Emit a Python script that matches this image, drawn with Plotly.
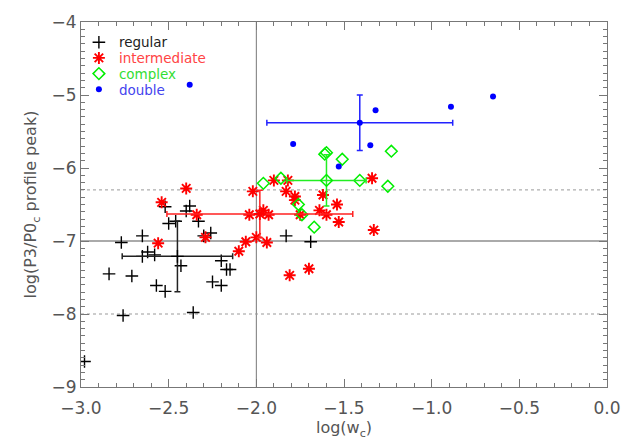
import plotly.graph_objects as go

# ---- data ----
reg_x = [-2.98, -2.84, -2.77, -2.76, -2.71, -2.65, -2.65, -2.62, -2.58, -2.57, -2.52, -2.52, -2.50, -2.46,
         -2.43, -2.40, -2.38, -2.36, -2.33, -2.30, -2.26, -2.25, -2.20, -2.20, -2.17, -2.15, -1.83, -1.69]
reg_y = [-8.65, -7.45, -7.02, -8.02, -7.48, -6.93, -7.21, -7.15, -7.19, -7.61, -7.69, -6.53, -6.76, -6.73,
         -7.34, -6.59, -6.52, -7.98, -6.73, -6.93, -6.89, -7.56, -7.61, -7.27, -7.39, -7.39, -6.93, -7.01]

int_x = [-2.54, -2.40, -2.56, -2.34, -2.29, -2.10, -2.06, -2.02, -2.04, -2.00, -1.96, -1.93, -1.94, -1.90,
         -1.82, -1.83, -1.78, -1.78, -1.75, -1.81, -1.70, -1.62, -1.54, -1.64, -1.60, -1.53, -1.34, -1.33]
int_y = [-6.47, -6.28, -7.03, -6.64, -6.95, -7.14, -7.01, -6.32, -6.64, -6.95, -6.58, -6.64, -7.02, -6.17,
         -6.17, -6.32, -6.39, -6.44, -6.64, -7.47, -7.38, -6.37, -6.50, -6.58, -6.64, -6.74, -6.14, -6.85]

cpx_x = [-1.96, -1.86, -1.76, -1.74, -1.67, -1.61, -1.60, -1.51, -1.41, -1.23, -1.25]
cpx_y = [-6.21, -6.14, -6.50, -6.64, -6.81, -5.81, -5.79, -5.88, -6.17, -5.77, -6.25]

dbl_x = [-2.38, -1.79, -1.32, -1.35, -1.53, -0.89, -0.65]
dbl_y = [-4.86, -5.67, -5.21, -5.69, -5.98, -5.16, -5.02]

classes = ["regular", "intermediate", "complex", "double"]
mean_x = [-2.45, -1.98, -1.60, -1.41]
mean_y = [-7.21, -6.63, -6.17, -5.38]
sd_x = [0.315, 0.53, 0.226, 0.53]
sd_y = [0.485, 0.325, 0.35, 0.38]

x_ticks = [-3.0, -2.5, -2.0, -1.5, -1.0, -0.5, 0.0]
y_ticks = [-9, -8, -7, -6, -5, -4]
ref_x = -2.0
ref_y_solid = -7.0
ref_y_dotted = [-6.3, -8.0]

# ---- styles ----
colors = ["#000000", "#ff0000", "#00ee00", "#0000ff"]
text_colors = ["#222222", "#ff4444", "#33dd33", "#4444ee"]
bar_colors = ["#222222", "#ff2222", "#22ee22", "#2222ff"]
symbols = ["cross-thin-open", "asterisk-open", "diamond-open", "circle"]
sizes = [9, 10, 9, 6]
lw = [1.4, 1.9, 1.5, 0]
xs = [reg_x, int_x, cpx_x, dbl_x]
ys = [reg_y, int_y, cpx_y, dbl_y]
legend_ids = ["legend", "legend2", "legend3", "legend4"]
legend_rows = [0.944, 0.901, 0.858, 0.815]

fig = go.Figure()
FONT = "DejaVu Sans"
GRAY = "#555555"

for i in range(4):
    fig.add_trace(go.Scatter(
        x=xs[i], y=ys[i], mode="markers",
        name=f"<span style='color:{text_colors[i]}'>{classes[i]}</span>",
        legend=legend_ids[i],
        marker=dict(symbol=symbols[i], size=sizes[i], color=colors[i],
                    line=dict(color=colors[i], width=lw[i])),
    ))

for i in range(4):
    fig.add_trace(go.Scatter(
        x=[mean_x[i]], y=[mean_y[i]], mode="markers", showlegend=False,
        marker=dict(symbol=symbols[i], size=sizes[i], color=colors[i],
                    line=dict(color=colors[i], width=lw[i])),
        error_x=dict(type="data", array=[sd_x[i]], color=bar_colors[i], thickness=1.5, width=3),
        error_y=dict(type="data", array=[sd_y[i]], color=bar_colors[i], thickness=1.5, width=3),
    ))

shapes = [
    dict(type="line", xref="x", yref="paper", x0=ref_x, x1=ref_x, y0=0, y1=1,
         line=dict(color="#777777", width=1), layer="below"),
    dict(type="line", xref="paper", yref="y", x0=0, x1=1, y0=ref_y_solid, y1=ref_y_solid,
         line=dict(color="#aaaaaa", width=2), layer="below"),
]
for yv in ref_y_dotted:
    shapes.append(dict(type="line", xref="paper", yref="y", x0=0, x1=1, y0=yv, y1=yv,
                       line=dict(color="#999999", width=1, dash="dot"), layer="below"))

axis_common = dict(
    showgrid=False, zeroline=False, showline=True, linecolor="#777777", linewidth=1,
    mirror="allticks", ticks="inside", ticklen=8, tickcolor="#777777", tickwidth=1,
    tickfont=dict(family=FONT, size=17, color=GRAY),
)

layout_legends = {}
for lid, ly in zip(legend_ids, legend_rows):
    layout_legends[lid] = dict(x=-0.004, y=ly, xanchor="left", yanchor="middle",
                               bgcolor="rgba(0,0,0,0)", borderwidth=0,
                               font=dict(family=FONT, size=13.5, color=GRAY))

fig.update_layout(
    width=635, height=444,
    margin=dict(l=81, r=28, t=14, b=57),
    paper_bgcolor="white", plot_bgcolor="white",
    shapes=shapes,
    showlegend=True,
    xaxis=dict(range=[-3.0, 0.0], tickvals=x_ticks, tickformat=".1f", ticklabelstandoff=6,
               title=dict(text="log(w<sub>c</sub>)", font=dict(family=FONT, size=16, color=GRAY), standoff=2),
               minor=dict(dtick=0.1, ticks="inside", ticklen=4, tickcolor="#777777"),
               **axis_common),
    yaxis=dict(range=[-9.0, -4.0], tickvals=y_ticks,
               title=dict(text="log(P3/P0<sub>c</sub> profile peak)", font=dict(family=FONT, size=16, color=GRAY), standoff=10),
               minor=dict(dtick=0.1, ticks="inside", ticklen=4, tickcolor="#777777"),
               **axis_common),
    **layout_legends,
)

fig.write_html("out.html")
